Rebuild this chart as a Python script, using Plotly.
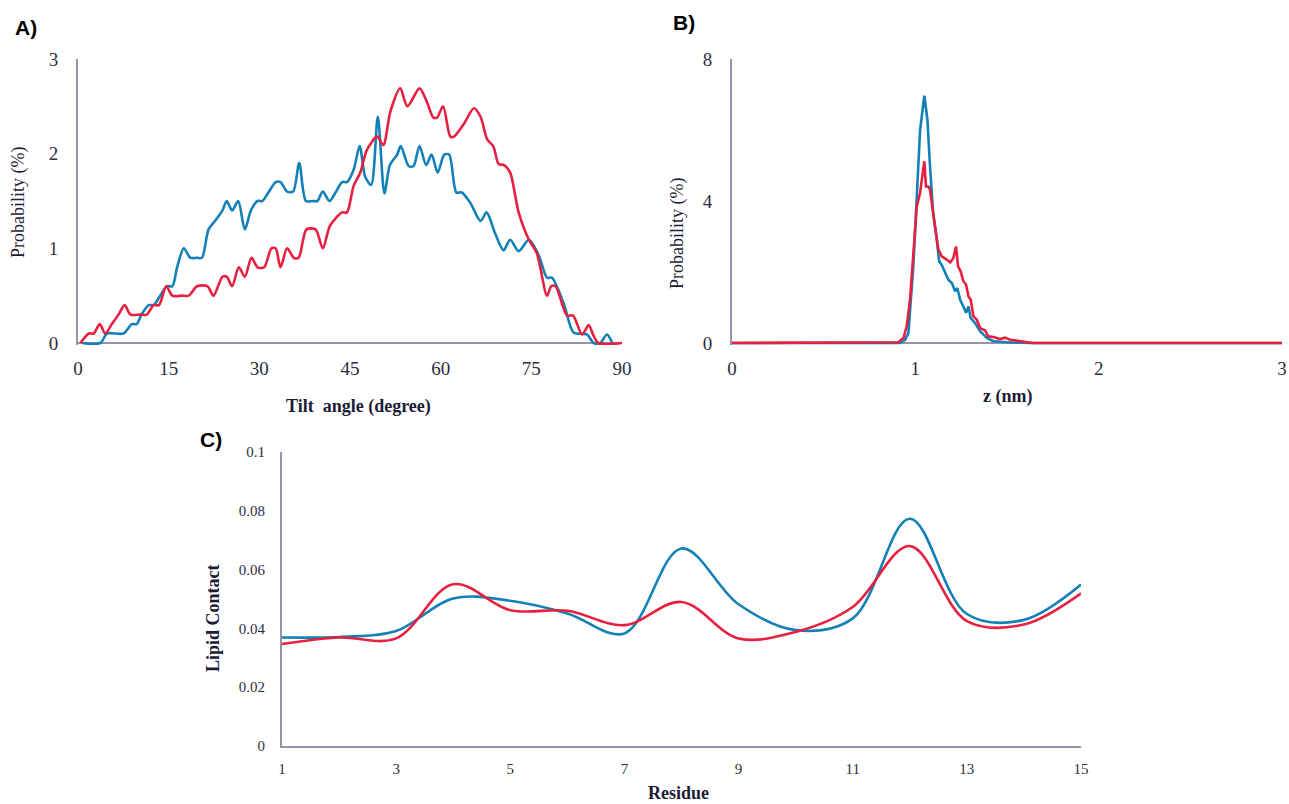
import plotly.graph_objects as go

W, H = 1289, 804

# ---------------- Panel A : tilt angle distribution ----------------
tilt_blue_x = [0.7, 3.7, 4.8, 7.5, 8.9, 9.7, 10.5, 11.7, 12.5, 13.6, 14.7, 15.6, 16.4, 17.5, 18.6, 19.7,
               20.5, 21.6, 22.8, 23.9, 24.6, 25.5, 26.5, 27.6, 28.6, 29.7, 30.5, 31.6, 32.7, 33.5, 34.6,
               35.6, 36.6, 37.7, 38.8, 39.6, 40.5, 41.6, 42.7, 43.7, 44.5, 45.6, 46.6, 47.5, 48.5, 49.6,
               50.7, 51.6, 52.8, 53.4, 54.7, 55.5, 56.5, 57.6, 58.5, 59.5, 60.6, 61.4, 62.6, 63.5, 64.9,
               66.6, 67.6, 69.0, 70.4, 71.5, 72.9, 74.6, 76.2, 77.6, 78.4, 80.4, 82.0, 84.2, 85.3, 86.4,
               87.5, 88.4]
tilt_blue_y = [0, 0, 0.1, 0.1, 0.2, 0.2, 0.3, 0.4, 0.4, 0.5, 0.6, 0.6, 0.8, 1.0, 0.9, 0.9,
               0.9, 1.2, 1.3, 1.4, 1.5, 1.4, 1.5, 1.2, 1.4, 1.5, 1.5, 1.6, 1.7, 1.7, 1.6,
               1.6, 1.9, 1.5, 1.5, 1.5, 1.6, 1.5, 1.6, 1.7, 1.7, 1.83, 2.08, 1.76, 1.67, 2.39,
               1.58, 1.88, 1.99, 2.08, 1.87, 1.87, 2.08, 1.88, 1.99, 1.80, 1.99, 1.99, 1.59, 1.59, 1.48,
               1.29, 1.38, 1.16, 0.98, 1.09, 0.97, 1.09, 0.93, 0.69, 0.69, 0.41, 0.11, 0.09, 0, 0,
               0.09, 0]
tilt_red_x = [0.4, 1.8, 2.6, 3.6, 4.5, 5.6, 6.7, 7.7, 8.7, 10.3, 11.4, 12.5, 13.4, 14.6, 15.6, 17.2,
              18.3, 19.7, 21.4, 22.4, 23.9, 24.6, 25.5, 26.6, 27.6, 28.7, 29.7, 30.8, 32.0, 32.7, 33.5,
              34.6, 35.7, 36.5, 37.8, 39.3, 40.5, 41.7, 43.7, 44.5, 45.6, 46.7, 47.8, 49.5, 50.5, 51.7,
              53.3, 54.5, 56.5, 57.7, 58.8, 59.4, 60.4, 61.6, 62.2, 63.8, 65.5, 66.6, 67.7, 68.7, 69.6,
              70.5, 71.5, 72.9, 74.6, 75.9, 77.6, 78.3, 79.0, 80.9, 81.9, 83.4, 84.5, 85.2, 86.1, 90]
tilt_red_y = [0, 0.1, 0.1, 0.2, 0.1, 0.2, 0.3, 0.4, 0.3, 0.3, 0.3, 0.4, 0.4, 0.6, 0.5, 0.5,
              0.5, 0.6, 0.6, 0.5, 0.7, 0.7, 0.6, 0.8, 0.7, 0.9, 0.8, 0.8, 1.0, 1.0, 0.8,
              1.0, 0.9, 0.9, 1.2, 1.2, 1.0, 1.24, 1.38, 1.38, 1.66, 1.80, 2.04, 2.18, 2.09, 2.45,
              2.69, 2.50, 2.69, 2.55, 2.38, 2.38, 2.50, 2.18, 2.18, 2.31, 2.48, 2.39, 2.15, 2.08, 1.89,
              1.88, 1.80, 1.38, 1.09, 0.95, 0.50, 0.60, 0.60, 0.29, 0.29, 0.09, 0.19, 0.09, 0, 0]

# ---------------- Panel B : z position distribution ----------------
z_blue_x = [0, 0.88, 0.917, 0.944, 0.962, 0.989, 1.008, 1.026, 1.049, 1.066, 1.080, 1.097, 1.115, 1.13,
            1.144, 1.162, 1.18, 1.199, 1.217, 1.229, 1.244, 1.262, 1.277, 1.29, 1.302, 1.326, 1.353,
            1.39, 1.426, 1.499, 1.626, 3]
z_blue_y = [0, 0, 0, 0.09, 0.28, 2.16, 4.13, 6.0, 6.97, 6.29, 4.98, 3.66, 3.0, 2.3,
            2.2, 1.97, 1.78, 1.69, 1.46, 1.55, 1.22, 1.03, 0.85, 1.03, 0.70, 0.56, 0.33,
            0.14, 0.05, 0.02, 0, 0]
z_red_x = [0, 0.87, 0.907, 0.935, 0.953, 0.971, 0.989, 1.008, 1.026, 1.04, 1.049, 1.058, 1.071, 1.08,
           1.095, 1.107, 1.126, 1.144, 1.171, 1.19, 1.207, 1.222, 1.233, 1.247, 1.262, 1.277, 1.29,
           1.302, 1.317, 1.335, 1.353, 1.38, 1.398, 1.426, 1.462, 1.49, 1.517, 1.571, 1.64, 3]
z_red_y = [0, 0, 0.02, 0.14, 0.47, 1.22, 2.54, 3.85, 4.23, 4.79, 5.12, 4.41, 4.41, 4.32,
           3.66, 3.29, 2.63, 2.44, 2.35, 2.27, 2.39, 2.72, 2.16, 2.02, 1.74, 1.64, 1.31,
           1.22, 0.75, 0.66, 0.42, 0.36, 0.19, 0.17, 0.11, 0.15, 0.09, 0.05, 0, 0]

# ---------------- Panel C : lipid contact per residue ----------------
residues = list(range(1, 16))
contact_blue = [0.0369, 0.0371, 0.0391, 0.0502, 0.0494, 0.0451, 0.0383, 0.0672, 0.0482, 0.0394,
                0.0434, 0.0773, 0.0449, 0.0429, 0.0549]
contact_red = [0.0347, 0.0369, 0.0366, 0.0550, 0.0462, 0.0460, 0.0411, 0.0490, 0.0366, 0.0388,
               0.0473, 0.0680, 0.0425, 0.0413, 0.0519]

BLUE = "#1380b8"
RED = "#e8203f"
AXIS = "#9494aa"
TICKC = "#2e2e40"
TITLEC = "#1c1c36"
SERIF = "Liberation Serif, Times New Roman, serif"
SANS = "Liberation Sans, Arial, sans-serif"
LW = 2.6


def px(x):
    return x / W


def py(y):
    return 1 - y / H


fig = go.Figure()

fig.add_trace(go.Scatter(x=tilt_blue_x, y=tilt_blue_y, mode="lines", line=dict(color=BLUE, width=LW, shape="spline", smoothing=0.8),
                         xaxis="x", yaxis="y", showlegend=False))
fig.add_trace(go.Scatter(x=tilt_red_x, y=tilt_red_y, mode="lines", line=dict(color=RED, width=LW, shape="spline", smoothing=0.8),
                         xaxis="x", yaxis="y", showlegend=False))
fig.add_trace(go.Scatter(x=z_blue_x, y=z_blue_y, mode="lines", line=dict(color=BLUE, width=LW),
                         xaxis="x2", yaxis="y2", showlegend=False))
fig.add_trace(go.Scatter(x=z_red_x, y=z_red_y, mode="lines", line=dict(color=RED, width=LW),
                         xaxis="x2", yaxis="y2", showlegend=False))
fig.add_trace(go.Scatter(x=residues, y=contact_blue, mode="lines", line=dict(color=BLUE, width=LW, shape="spline", smoothing=1),
                         xaxis="x3", yaxis="y3", showlegend=False))
fig.add_trace(go.Scatter(x=residues, y=contact_red, mode="lines", line=dict(color=RED, width=LW, shape="spline", smoothing=1),
                         xaxis="x3", yaxis="y3", showlegend=False))

tickfont_big = dict(family=SERIF, size=19, color=TICKC)
tickfont_small = dict(family=SERIF, size=15, color=TICKC)

common_x = dict(showgrid=False, zeroline=False, showline=False, ticks="", automargin=False)
common_y = dict(showgrid=False, showline=True, linecolor=AXIS, linewidth=2, ticks="", automargin=False,
                zeroline=True, zerolinecolor=AXIS, zerolinewidth=2)

fig.update_layout(
    width=W, height=H,
    margin=dict(l=0, r=0, t=0, b=0),
    paper_bgcolor="white", plot_bgcolor="white",
    xaxis=dict(domain=[px(78), px(622)], range=[0, 90], tickvals=[0, 15, 30, 45, 60, 75, 90],
               tickfont=tickfont_big, ticklabelstandoff=10, anchor="y", **common_x),
    yaxis=dict(domain=[py(345), py(59)], range=[-2 * 3 / 284, 3], tickvals=[0, 1, 2, 3],
               tickfont=tickfont_big, ticklabelstandoff=14, anchor="x", **common_y),
    xaxis2=dict(domain=[px(732), px(1282)], range=[0, 3], tickvals=[0, 1, 2, 3],
                tickfont=tickfont_big, ticklabelstandoff=10, anchor="y2", **common_x),
    yaxis2=dict(domain=[py(345), py(59)], range=[-2 * 8 / 284, 8], tickvals=[0, 4, 8],
                tickfont=tickfont_big, ticklabelstandoff=14, anchor="x2", **common_y),
    xaxis3=dict(domain=[px(282), px(1081)], range=[1, 15], tickvals=[1, 3, 5, 7, 9, 11, 13, 15],
                tickfont=tickfont_small, ticklabelstandoff=8, anchor="y3", showgrid=False, zeroline=False,
                showline=True, linecolor=AXIS, linewidth=2, ticks="", automargin=False),
    yaxis3=dict(domain=[py(746), py(452)], range=[0, 0.1], tickvals=[0, 0.02, 0.04, 0.06, 0.08, 0.1],
                ticktext=["0", "0.02", "0.04", "0.06", "0.08", "0.1"],
                tickfont=tickfont_small, ticklabelstandoff=12, anchor="x3", showgrid=False, zeroline=False,
                showline=True, linecolor=AXIS, linewidth=2, ticks="", automargin=False),
)

annotations = [
    dict(text="<b>A)</b>", x=px(13), y=py(28), xanchor="left", yanchor="middle", font=dict(family=SANS, size=21, color="black")),
    dict(text="<b>B)</b>", x=px(671), y=py(22), xanchor="left", yanchor="middle", font=dict(family=SANS, size=21, color="black")),
    dict(text="<b>C)</b>", x=px(198), y=py(440), xanchor="left", yanchor="middle", font=dict(family=SANS, size=21, color="black")),
    dict(text="Probability (%)", x=px(18), y=py(203), textangle=-90, xanchor="center", yanchor="middle",
         font=dict(family=SERIF, size=18, color=TITLEC)),
    dict(text="Probability (%)", x=px(677), y=py(234), textangle=-90, xanchor="center", yanchor="middle",
         font=dict(family=SERIF, size=18, color=TITLEC)),
    dict(text="<b>Tilt  angle (degree)</b>", x=px(358), y=py(406), xanchor="center", yanchor="middle",
         font=dict(family=SERIF, size=18, color=TITLEC)),
    dict(text="<b>z (nm)</b>", x=px(1007), y=py(396), xanchor="center", yanchor="middle",
         font=dict(family=SERIF, size=18, color=TITLEC)),
    dict(text="<b>Lipid Contact</b>", x=px(213), y=py(618), textangle=-90, xanchor="center", yanchor="middle",
         font=dict(family=SERIF, size=18, color=TITLEC)),
    dict(text="<b>Residue</b>", x=px(678), y=0, xanchor="center", yanchor="bottom", borderpad=0,
         font=dict(family=SERIF, size=18, color=TITLEC)),
]
for a in annotations:
    a.update(xref="paper", yref="paper", showarrow=False)
fig.update_layout(annotations=annotations)

fig.write_html("out.html", config={"displayModeBar": False},
               post_script="document.body.style.margin='0';document.body.style.overflow='hidden';")
